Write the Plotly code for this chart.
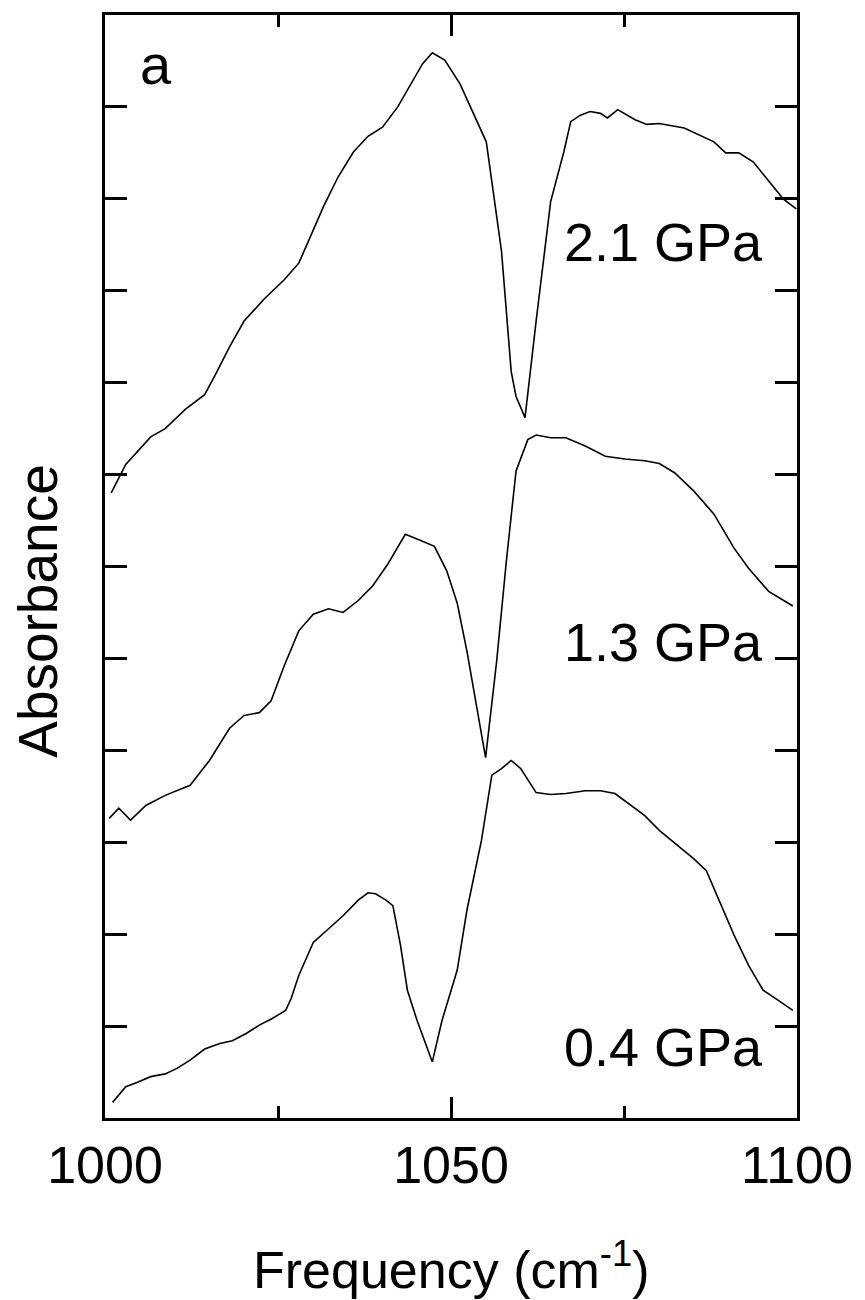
import plotly.graph_objects as go

# ---- data ----
freq_21 = [1000.9, 1003.0, 1006.6, 1008.7, 1011.6, 1014.4, 1015.9, 1018.0, 1020.1, 1023.0,
           1025.9, 1028.0, 1029.4, 1031.6, 1033.7, 1035.9, 1038.0, 1040.1, 1042.3, 1044.4,
           1045.9, 1047.3, 1049.1, 1051.3, 1054.4, 1055.1, 1057.3, 1058.7, 1059.4, 1060.7,
           1062.3, 1064.4, 1066.3, 1067.3, 1068.7, 1070.1, 1071.6, 1072.6, 1074.1, 1076.6,
           1078.3, 1080.1, 1083.7, 1088.0, 1089.7, 1091.6, 1093.7, 1095.9, 1098.0, 1099.9]
abs_21 = [6.80, 7.11, 7.41, 7.50, 7.71, 7.87, 8.08, 8.39, 8.67, 8.91,
          9.12, 9.30, 9.54, 9.92, 10.24, 10.51, 10.68, 10.78, 11.00, 11.27,
          11.47, 11.59, 11.51, 11.25, 10.73, 10.62, 9.43, 8.12, 7.85, 7.62,
          8.67, 9.97, 10.51, 10.84, 10.91, 10.95, 10.93, 10.88, 10.97, 10.86,
          10.81, 10.82, 10.77, 10.62, 10.50, 10.50, 10.40, 10.19, 10.00, 9.89]

freq_13 = [1000.6, 1002.0, 1003.7, 1005.9, 1008.7, 1012.3, 1015.1, 1018.0, 1020.1, 1022.3,
           1024.0, 1025.9, 1028.0, 1030.1, 1032.3, 1034.4, 1036.6, 1038.7, 1040.9, 1043.4,
           1045.1, 1047.6, 1049.4, 1050.9, 1052.3, 1053.7, 1055.0, 1056.6, 1058.0, 1059.4,
           1061.1, 1062.3, 1064.4, 1066.6, 1069.4, 1072.3, 1075.1, 1078.0, 1080.1, 1082.3,
           1085.1, 1088.0, 1090.9, 1093.0, 1095.9, 1099.4]
abs_13 = [3.26, 3.37, 3.24, 3.40, 3.51, 3.62, 3.89, 4.24, 4.38, 4.41,
          4.54, 4.92, 5.30, 5.48, 5.54, 5.50, 5.63, 5.79, 6.03, 6.35,
          6.30, 6.22, 5.95, 5.60, 5.08, 4.49, 3.92, 4.97, 6.06, 7.04,
          7.38, 7.43, 7.40, 7.40, 7.31, 7.20, 7.17, 7.15, 7.12, 7.02,
          6.82, 6.57, 6.20, 5.98, 5.73, 5.57]

freq_04 = [1001.1, 1003.0, 1004.7, 1006.6, 1008.7, 1010.4, 1012.3, 1014.4, 1016.6, 1018.4,
           1020.4, 1022.3, 1024.1, 1026.1, 1026.9, 1028.0, 1030.1, 1032.3, 1034.4, 1036.6,
           1038.0, 1039.1, 1040.6, 1041.6, 1042.7, 1043.7, 1045.1, 1047.3, 1048.7, 1050.9,
           1052.3, 1054.4, 1055.9, 1057.3, 1058.7, 1060.1, 1062.3, 1064.4, 1066.6, 1069.4,
           1071.6, 1073.7, 1075.1, 1078.0, 1080.1, 1082.3, 1085.1, 1086.9, 1088.7, 1090.9,
           1093.0, 1095.1, 1097.3, 1099.4]
abs_04 = [0.17, 0.34, 0.39, 0.45, 0.48, 0.54, 0.63, 0.75, 0.81, 0.84,
          0.92, 1.01, 1.08, 1.17, 1.30, 1.55, 1.91, 2.06, 2.20, 2.37,
          2.45, 2.44, 2.37, 2.31, 1.88, 1.39, 1.06, 0.61, 1.06, 1.61,
          2.26, 3.02, 3.73, 3.80, 3.89, 3.80, 3.54, 3.52, 3.53, 3.56,
          3.56, 3.53, 3.45, 3.29, 3.13, 2.99, 2.82, 2.69, 2.37, 1.99,
          1.66, 1.39, 1.28, 1.17]

labels = ["2.1 GPa", "1.3 GPa", "0.4 GPa"]
x_ticks = [1000, 1050, 1100]
x_tick_labels = ["1000", "1050", "1100"]

FONT = "Liberation Sans, Arial, sans-serif"

fig = go.Figure()
for fx, ay in [(freq_21, abs_21), (freq_13, abs_13), (freq_04, abs_04)]:
    fig.add_trace(go.Scatter(x=fx, y=ay, mode="lines",
                             line=dict(color="black", width=1.6),
                             showlegend=False, hoverinfo="skip"))

# curve labels
label_pos = [(1095.4, 9.53), (1095.4, 5.18), (1095.4, 0.77)]
for txt, (lx, ly) in zip(labels, label_pos):
    fig.add_annotation(x=lx, y=ly, xref="x", yref="y", text=txt, showarrow=False,
                       xanchor="right", yanchor="middle",
                       font=dict(family=FONT, size=54, color="black"))

fig.add_annotation(x=1007.3, y=11.46, xref="x", yref="y", text="a", showarrow=False,
                   xanchor="center", yanchor="middle",
                   font=dict(family=FONT, size=56, color="black"))

# axis titles
fig.add_annotation(x=0.5, y=-0.1345, xref="paper", yref="paper",
                   text="Frequency (cm<sup>-1</sup>)", showarrow=False,
                   xanchor="center", yanchor="middle",
                   font=dict(family=FONT, size=52, color="black"))
fig.add_annotation(x=-0.098, y=0.46, xref="paper", yref="paper",
                   text="Absorbance", showarrow=False, textangle=-90,
                   xanchor="center", yanchor="middle",
                   font=dict(family=FONT, size=55, color="black"))

fig.update_layout(
    width=865, height=1300,
    margin=dict(l=105, r=60, t=13, b=182),
    paper_bgcolor="white", plot_bgcolor="white",
    font=dict(family=FONT, color="black"),
)
fig.update_xaxes(
    range=[1000, 1100], tickvals=x_ticks, ticktext=x_tick_labels,
    ticks="inside", ticklen=21, tickwidth=3, tickcolor="black",
    showline=True, linewidth=3, linecolor="black", mirror="ticks",
    showgrid=False, zeroline=False,
    tickfont=dict(family=FONT, size=52, color="black"),
    ticklabelstandoff=0,
    minor=dict(tickvals=[1025, 1075], ticks="inside", ticklen=12, tickwidth=3,
               tickcolor="black", showgrid=False),
)
fig.update_yaxes(
    range=[0, 12], dtick=1, tick0=0,
    ticks="inside", ticklen=22, tickwidth=3, tickcolor="black",
    showline=True, linewidth=3, linecolor="black", mirror="ticks",
    showgrid=False, zeroline=False, showticklabels=False,
)

fig.write_html("out.html")
